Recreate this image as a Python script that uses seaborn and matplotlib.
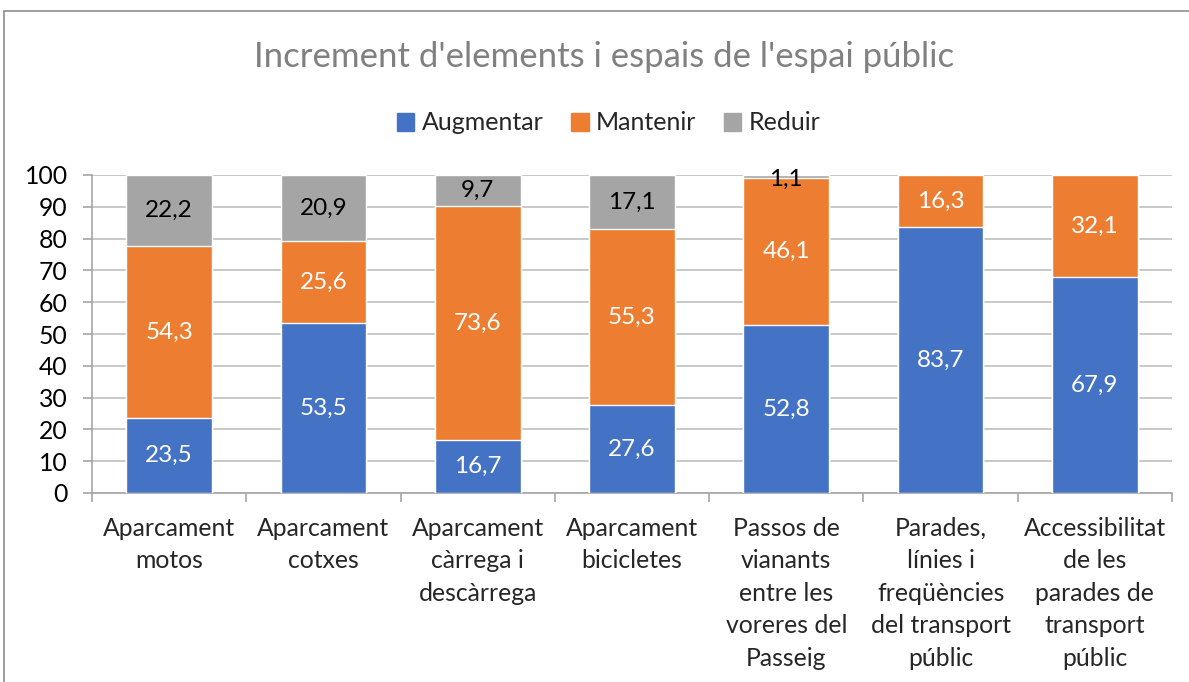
import matplotlib
matplotlib.use("Agg")
import matplotlib.pyplot as plt
import matplotlib.patches as mpatches
import pandas as pd
import seaborn as sns

categories = [
    "Aparcament\nmotos",
    "Aparcament\ncotxes",
    "Aparcament\ncàrrega i\ndescàrrega",
    "Aparcament\nbicicletes",
    "Passos de\nvianants\nentre les\nvoreres del\nPasseig",
    "Parades,\nlínies i\nfreqüències\ndel transport\npúblic",
    "Accessibilitat\nde les\nparades de\ntransport\npúblic",
]
augmentar = [23.5, 53.5, 16.7, 27.6, 52.8, 83.7, 67.9]
mantenir = [54.3, 25.6, 73.6, 55.3, 46.1, 16.3, 32.1]
reduir = [22.2, 20.9, 9.7, 17.1, 1.1, 0.0, 0.0]

series = ["Augmentar", "Mantenir", "Reduir"]
colors = {"Augmentar": "#4472C4", "Mantenir": "#ED7D31", "Reduir": "#A5A5A5"}
label_colors = {"Augmentar": "white", "Mantenir": "white", "Reduir": "black"}

df = pd.DataFrame({"cat": categories, "Augmentar": augmentar,
                   "Mantenir": mantenir, "Reduir": reduir})
df["top_aug"] = df["Augmentar"]
df["top_man"] = df["Augmentar"] + df["Mantenir"]
df["top_red"] = df["top_man"] + df["Reduir"]

sns.set_theme(style="white")
plt.rcParams["font.family"] = ["Lato", "DejaVu Sans"]

fig = plt.figure(figsize=(11.89, 6.82), dpi=100)
ax = fig.add_axes([92 / 1189, 1 - 493 / 682, (1172 - 92) / 1189, (493 - 175) / 682])

# draw cumulative totals back to front so the layers look stacked
for col, name in [("top_red", "Reduir"), ("top_man", "Mantenir"), ("top_aug", "Augmentar")]:
    sns.barplot(data=df, x="cat", y=col, color=colors[name], width=0.555,
                saturation=1, ax=ax, zorder=3, label=name)

for i, row in df.iterrows():
    base = 0.0
    for name in series:
        v = row[name]
        if v > 0:
            ypos = base + v / 2
            if v < 3:
                ypos = base + v / 2 - 0.8
            ax.text(i, ypos, f"{v:.1f}".replace(".", ","), ha="center", va="center",
                    fontsize=17.5, color=label_colors[name], zorder=5)
        base += v

ax.set_ylim(0, 100)
ax.set_xlim(-0.5, len(categories) - 0.5)
ax.set_yticks(range(0, 101, 10))
ax.yaxis.grid(True, color="#BFBFBF", linewidth=1.2, zorder=0)
ax.set_axisbelow(True)
ax.set_xlabel("")
ax.set_ylabel("")
for s in ["top", "right"]:
    ax.spines[s].set_visible(False)
ax.spines["left"].set_color("#A6A6A6")
ax.spines["bottom"].set_color("#A6A6A6")
ax.spines["left"].set_linewidth(1.2)
ax.spines["bottom"].set_linewidth(1.2)

ax.tick_params(axis="y", left=True, length=6.5, width=1.2, color="#A6A6A6",
               labelsize=17.8, labelcolor="black", pad=11)
ax.set_xticks(range(len(categories)))
ax.set_xticklabels(categories, fontsize=17.8, linespacing=1.5)
ax.set_xticks([i + 0.5 for i in range(-1, len(categories))], minor=True)
ax.tick_params(axis="x", which="major", bottom=False, pad=11)
ax.tick_params(axis="x", which="minor", bottom=True, length=6.5, width=1.2, color="#A6A6A6")
for lbl in ax.get_xticklabels():
    lbl.set_va("top")

handles = [mpatches.Patch(color=colors[n], label=n) for n in series]
if ax.get_legend() is not None:
    ax.get_legend().remove()
fig.legend(handles=handles, loc="center", bbox_to_anchor=(0.512, 1 - 123 / 682),
           ncol=3, frameon=False, fontsize=18, handlelength=0.7, handleheight=0.7,
           handletextpad=0.3, columnspacing=1.1)

fig.text(0.508, 1 - 57 / 682, "Increment d'elements i espais de l'espai públic",
         ha="center", va="center", fontsize=25, color="#808080")

border = mpatches.Rectangle((4 / 1189, -0.02), 1.1, 1 - 11 / 682 + 0.02,
                            transform=fig.transFigure, fill=False,
                            edgecolor="#8C8C8C", linewidth=1.2, clip_on=False)
fig.patches.append(border)

fig.savefig("out.png", dpi=100)
